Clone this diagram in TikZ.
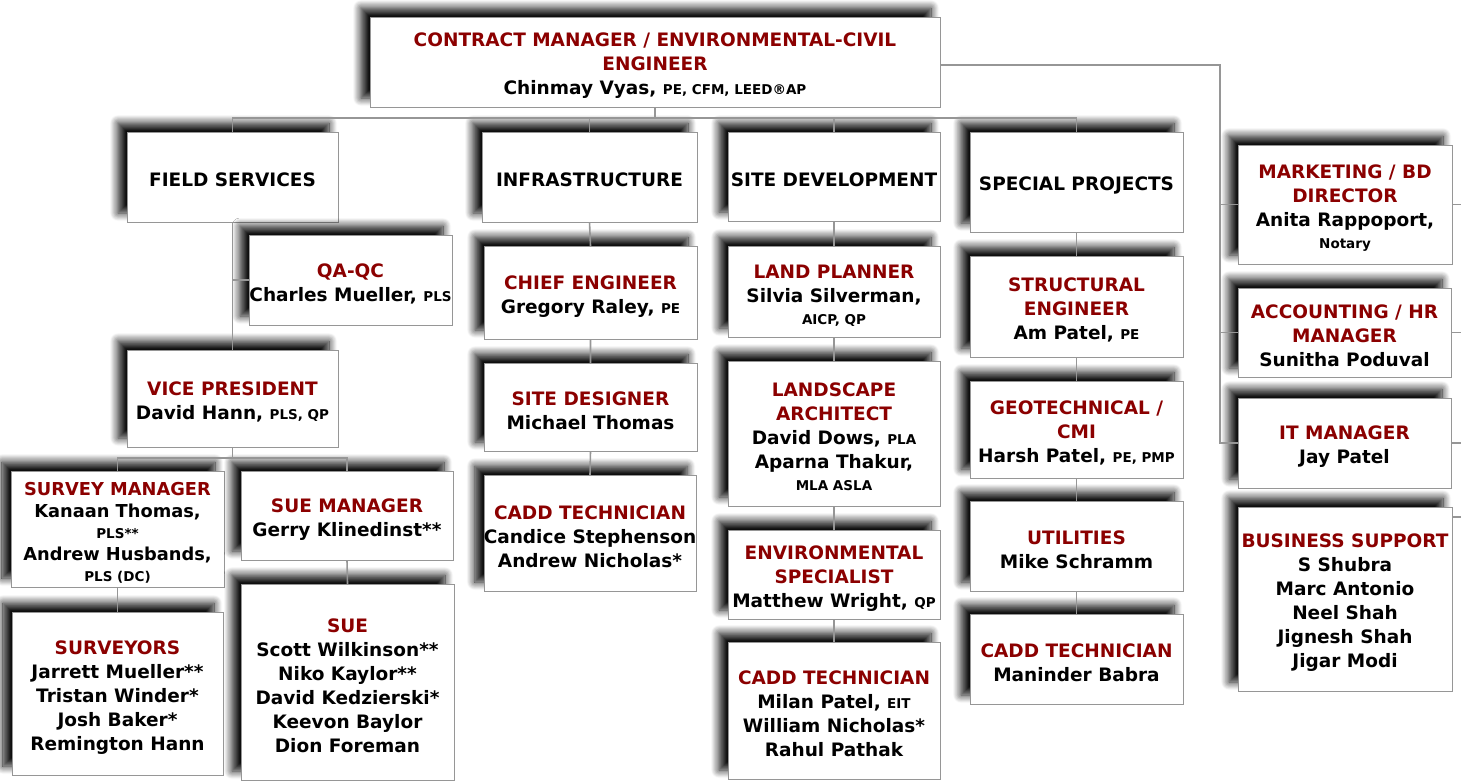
\documentclass[tikz,border=0pt]{standalone}
\usepackage{fontspec}
\setmainfont{DejaVu Sans}
\usepackage{tikz}
\usetikzlibrary{positioning,shadows.blur}
\definecolor{titlered}{RGB}{139,0,0}
\definecolor{linegray}{RGB}{150,150,150}
\newcommand{\postitle}[1]{\rule{0pt}{21pt}\textcolor{titlered}{#1}}
\newcommand{\cred}[1]{{\fontsize{13.5}{16}\selectfont #1}}
\tikzset{
  orgbox/.style={draw=linegray, fill=white, align=center, inner sep=0pt,
    font=\fontsize{18.5}{24}\selectfont\bfseries,
    execute at begin node={\rule{0pt}{20pt}},
    blur shadow={shadow xshift=-9pt, shadow yshift=9pt, shadow blur radius=8pt,
      shadow blur steps=12, shadow opacity=95}},
  boxsize/.style 2 args={minimum width=#1pt, minimum height=#2pt},
  link/.style={draw=linegray, line width=1.6pt}
}

\begin{document}
\begin{tikzpicture}[x=1pt,y=-1pt]
  \useasboundingbox (0,0) rectangle (1461,782);
  % top
  \node[orgbox, boxsize={570}{90}] (cm) at (655,62)
    {\postitle{CONTRACT MANAGER / ENVIRONMENTAL-CIVIL}\\\postitle{ENGINEER}\\Chinmay Vyas, \cred{PE, CFM, LEED®AP}};
  % departments
  \node[orgbox, boxsize={211}{90}] (fs) at (232.5,177) {FIELD SERVICES};
  \node[orgbox, boxsize={215}{90}] (infra) at (589.5,177) {INFRASTRUCTURE};
  \node[orgbox, boxsize={212}{89}] (sitedev) at (834,176.5) {SITE DEVELOPMENT};
  \node[orgbox, boxsize={213}{100}] (spec) at (1076.5,182) {SPECIAL PROJECTS};
  % field services
  \node[orgbox, boxsize={203}{90}] (qa) at (350.5,280) {\postitle{QA-QC}\\Charles Mueller, \cred{PLS}};
  \node[orgbox, boxsize={211}{97}] (vp) at (232.5,398.5) {\postitle{VICE PRESIDENT}\\David Hann, \cred{PLS, QP}};
  \node[orgbox, boxsize={213}{116}, font=\fontsize{17.8}{22}\selectfont\bfseries] (sm) at (117.5,529)
    {\postitle{SURVEY MANAGER}\\Kanaan Thomas,\\[-1pt]\cred{PLS**}\\Andrew Husbands,\\[-1pt]\cred{PLS (DC)}};
  \node[orgbox, boxsize={212}{89}] (suem) at (347,515.5) {\postitle{SUE MANAGER}\\Gerry Klinedinst**};
  \node[orgbox, boxsize={211}{163}] (surv) at (117.5,693.5)
    {\postitle{SURVEYORS}\\Jarrett Mueller**\\Tristan Winder*\\Josh Baker*\\Remington Hann};
  \node[orgbox, boxsize={213}{196}] (sue) at (347.5,682)
    {\postitle{SUE}\\Scott Wilkinson**\\Niko Kaylor**\\David Kedzierski*\\Keevon Baylor\\Dion Foreman};
  % infrastructure
  \node[orgbox, boxsize={213}{93}] (chief) at (590.5,292.5) {\postitle{CHIEF ENGINEER}\\Gregory Raley, \cred{PE}};
  \node[orgbox, boxsize={213}{88}] (sited) at (590.5,407) {\postitle{SITE DESIGNER}\\Michael Thomas};
  \node[orgbox, boxsize={212}{116}] (cadda) at (590,533)
    {\postitle{CADD TECHNICIAN}\\Candice Stephenson\\Andrew Nicholas*};
  % site development
  \node[orgbox, boxsize={212}{91}] (land) at (834,291.5) {\postitle{LAND PLANNER}\\Silvia Silverman,\\[-2pt]\cred{AICP, QP}};
  \node[orgbox, boxsize={212}{145}] (lsa) at (834,433.5)
    {\postitle{LANDSCAPE}\\\postitle{ARCHITECT}\\David Dows, \cred{PLA}\\Aparna Thakur,\\[-2pt]\cred{MLA ASLA}};
  \node[orgbox, boxsize={212}{89}] (env) at (834,574.5)
    {\postitle{ENVIRONMENTAL}\\\postitle{SPECIALIST}\\Matthew Wright, \cred{QP}};
  \node[orgbox, boxsize={212}{137}] (caddb) at (834,710.5)
    {\postitle{CADD TECHNICIAN}\\Milan Patel, \cred{EIT}\\William Nicholas*\\Rahul Pathak};
  % special projects
  \node[orgbox, boxsize={213}{101}] (struct) at (1076.5,306.5)
    {\postitle{STRUCTURAL}\\\postitle{ENGINEER}\\Am Patel, \cred{PE}};
  \node[orgbox, boxsize={213}{97}] (geo) at (1076.5,429.5)
    {\postitle{GEOTECHNICAL /}\\\postitle{CMI}\\Harsh Patel, \cred{PE, PMP}};
  \node[orgbox, boxsize={213}{90}] (util) at (1076.5,546) {\postitle{UTILITIES}\\Mike Schramm};
  \node[orgbox, boxsize={213}{90}] (caddc) at (1076.5,659) {\postitle{CADD TECHNICIAN}\\Maninder Babra};
  % staff
  \node[orgbox, boxsize={214}{119}] (mkt) at (1345,204.5)
    {\postitle{MARKETING / BD}\\\postitle{DIRECTOR}\\Anita Rappoport,\\[-2pt]\cred{Notary}};
  \node[orgbox, boxsize={213}{89}] (acct) at (1344.5,332.5)
    {\postitle{ACCOUNTING / HR}\\\postitle{MANAGER}\\Sunitha Poduval};
  \node[orgbox, boxsize={213}{90}] (it) at (1344.5,443) {\postitle{IT MANAGER}\\Jay Patel};
  \node[orgbox, boxsize={214}{184}] (bus) at (1345,599)
    {\postitle{BUSINESS SUPPORT}\\S Shubra\\Marc Antonio\\Neel Shah\\Jignesh Shah\\Jigar Modi};

  \draw[link] (cm.south) -- ++(0,11) coordinate (topbus);
  \foreach \d in {fs,infra,sitedev,spec}
    \draw[link] (topbus) -| (\d.north);
  \coordinate (rx) at (1220,0);
  \coordinate (edge) at (1461,0);
  \draw[link] ([yshift=-3pt]cm.east) -| (rx |- it.west) -- (it.west);
  \draw[link] (rx |- mkt.west) -- (mkt.west);
  \draw[link] (rx |- acct.west) -- (acct.west);
  \foreach \d in {mkt,acct,it}
    \draw[link] (\d.east) -- (\d.east -| edge);
  \draw[link] ([yshift=-10pt]bus.north east) -- +(20,0);
  \draw[link] (fs.south) -- (vp.north);
  \draw[link] (fs.south) |- (qa.west);
  \draw[link] (vp.south) -- ++(0,11) coordinate (vpbus);
  \foreach \d in {sm,suem}
    \draw[link] (vpbus) -| (\d.north);
  \draw[link] (sm.south) -- (surv.north);
  \draw[link] (suem.south) -- (sue.north);
  \draw[link] (infra.south) -- (chief.north) (chief.south) -- (sited.north) (sited.south) -- (cadda.north);
  \draw[link] (sitedev.south) -- (land.north) (land.south) -- (lsa.north) (lsa.south) -- (env.north) (env.south) -- (caddb.north);
  \draw[link] (spec.south) -- (struct.north) (struct.south) -- (geo.north) (geo.south) -- (util.north) (util.south) -- (caddc.north);
\end{tikzpicture}
\end{document}
